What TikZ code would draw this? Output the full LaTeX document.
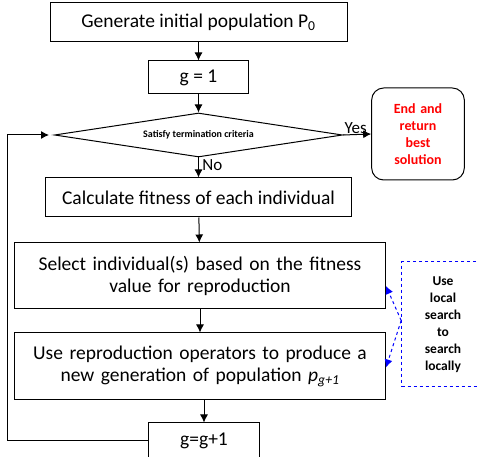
\documentclass[tikz,border=0pt]{standalone}
\usepackage{fontspec}
\setmainfont{Carlito}
\usetikzlibrary{positioning,arrows.meta,calc,shapes.geometric}

\begin{document}
\begin{tikzpicture}[
      >={Latex[length=8pt,width=8pt]},
      x=1pt, y=1pt,
      auto
    ]

    \tikzstyle{box} = [rectangle, draw=black, line width=1pt, text centered, inner sep=2pt, font=\fontsize{19.5}{22}\selectfont]

    \tikzstyle{decision} = [diamond, draw=black, line width=1pt, aspect=6.5, inner sep=0pt, minimum width=288pt, minimum height=44pt, font=\fontsize{10}{12}\selectfont\bfseries]

    \tikzstyle{stopbox} = [rectangle, rounded corners=12pt, draw=black, line width=1pt, minimum width=92pt, minimum height=92pt, text width=86pt, align=center, text=red, font=\fontsize{14}{17}\selectfont\bfseries]

    \tikzstyle{note} = [rectangle, draw=blue, dashed, line width=1pt, minimum width=80pt, minimum height=125pt, text width=76pt, align=center, font=\fontsize{13.5}{17}\selectfont\bfseries]

    \tikzstyle{arrow} = [line width=1pt, ->]

    \useasboundingbox (0,0) rectangle (479,457);

    \node [box, minimum width=297pt, minimum height=39pt] (init) at (198.5,434.5) {
    	Generate initial population P\textsubscript{0}
        };
    \node [box, minimum width=100pt, minimum height=33pt] (gOne) [node distance=18pt, below=of init] {
    	g = 1
        };
    \node [decision] (crit) [node distance=18pt, below=of gOne] {
    	Satisfy termination criteria
        };
    \node [box, minimum width=306pt, minimum height=39pt] (fitness) [node distance=20pt, below=of crit] {
    	Calculate fitness of each individual
        };
    \node [box, minimum width=371pt, minimum height=66pt, text width=365pt, xshift=1.5pt] (select) [node distance=25pt, below=of fitness] {
    	Select individual(s) based on the fitness\\ value for reproduction
        };
    \node [box, minimum width=371pt, minimum height=67pt, text width=365pt] (reprod) [node distance=23pt, below=of select] {
    	Use reproduction operators to produce a\\ new generation of population \textit{p}\textsubscript{\textit{g+1}}
        };
    \node [box, minimum width=111pt, minimum height=36pt, xshift=4pt] (gNext) [node distance=22pt, below=of reprod] {
    	g=g+1
        };
    \node [stopbox] (finish) at (418,323) {
    	End and\\ return\\ best\\ solution
        };
    \node [note] (local) at (443,132.5) {
    	Use\\ local\\ search\\ to\\ search\\ locally
        };

    \coordinate (back) at ($(crit.west)+(-5,0)$);

    \draw [arrow] (init) -- (gOne);
    \draw [arrow] (gOne) -- (crit);
    \draw [arrow] (crit.south) -- node [right, pos=0.4, font=\fontsize{17}{19}\selectfont] {No} (fitness.north);
    \draw [arrow] (crit.east) -- node [above, pos=0.45, inner sep=0.5pt, font=\fontsize{17}{19}\selectfont] {Yes} (finish.west);
    \draw [arrow] (fitness) -- (select);
    \draw [arrow] (select) -- (reprod);
    \draw [arrow] (reprod.south -| gNext.north) -- (gNext.north);
    \draw [arrow] (gNext.west) -| ($(crit.west)+(-47,0)$) -- (back);

    \draw [->, blue, dashed, line width=1pt] ($(local.west)+(0,4)$) -- ($(select.east)+(0,-10)$);
    \draw [->, blue, dashed, line width=1pt] ($(local.west)+(0,4)$) -- ($(reprod.east)+(0,-1)$);

\end{tikzpicture}
\end{document}
